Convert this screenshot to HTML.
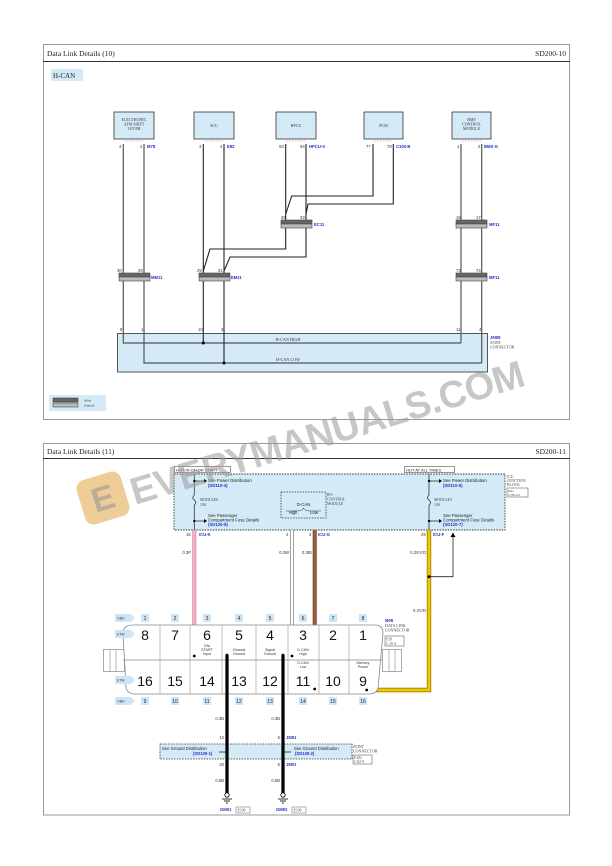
<!DOCTYPE html>
<html><head><meta charset="utf-8"><style>
html,body{margin:0;padding:0;background:#fff;}
svg{display:block;}
.s{font-family:"Liberation Serif",serif;}
.a{font-family:"Liberation Sans",sans-serif;}
</style></head><body>
<svg width="612" height="866" viewBox="0 0 612 866" xmlns="http://www.w3.org/2000/svg">
<!-- ===== TOP PANEL ===== -->
<rect x="43.5" y="44.5" width="526" height="375" fill="#fff" stroke="#999" stroke-width="1"/>
<line x1="43" y1="61.5" x2="570" y2="61.5" stroke="#333" stroke-width="1"/>
<text x="47" y="56" class="s" font-size="7.5" fill="#222">Data Link Details (10)</text>
<text x="566" y="56" class="s" font-size="7.5" fill="#222" text-anchor="end">SD200-10</text>
<rect x="51" y="69" width="32" height="12" fill="#d4eaf7"/>
<text x="53" y="78" class="s" font-size="7" fill="#223">H-CAN</text>

<g fill="#d4eaf7" stroke="#333" stroke-width="0.8">
<rect x="114" y="112" width="40" height="27"/>
<rect x="194" y="112" width="40" height="27"/>
<rect x="276" y="112" width="40" height="27"/>
<rect x="364" y="112" width="39" height="27"/>
<rect x="452" y="112" width="39" height="27"/>
</g>
<g class="s" font-size="4" fill="#333" text-anchor="middle">
<text x="134" y="121">ELECTRONIC</text><text x="134" y="125.5">ATM SHIFT</text><text x="134" y="130">LEVER</text>
<text x="214" y="127">SCU</text>
<text x="296" y="127">HPCU</text>
<text x="383.5" y="127">PCM</text>
<text x="471.5" y="121">BMS</text><text x="471.5" y="125.5">CONTROL</text><text x="471.5" y="130">MODULE</text>
</g>
<g stroke="#888" stroke-width="0.6" stroke-dasharray="1.5,1.5">
<line x1="124" y1="141" x2="143" y2="141"/><line x1="204" y1="141" x2="223" y2="141"/>
<line x1="286" y1="141" x2="305" y2="141"/><line x1="374" y1="141" x2="392" y2="141"/>
<line x1="462" y1="141" x2="481" y2="141"/>
</g>
<g class="a" font-size="4.2" fill="#333">
<text x="119" y="148">4</text><text x="140" y="148">2</text>
<text x="199" y="148">3</text><text x="220" y="148">4</text>
<text x="279" y="148">93</text><text x="300" y="148">94</text>
<text x="366" y="148">77</text><text x="387" y="148">78</text>
<text x="457" y="148">1</text><text x="478" y="148">2</text>
<text x="117" y="272">30</text><text x="138" y="272">29</text>
<text x="197" y="272">29</text><text x="218" y="272">31</text>
<text x="281" y="219">28</text><text x="300" y="219">33</text>
<text x="456" y="219">16</text><text x="476" y="219">17</text>
<text x="456" y="272">73</text><text x="476" y="272">74</text>
<text x="120" y="331">8</text><text x="141" y="331">1</text>
<text x="198" y="331">10</text><text x="221" y="331">3</text>
<text x="456" y="331">11</text><text x="479" y="331">4</text>
</g>
<g class="a" font-size="4.2" fill="#2230c8" font-weight="bold">
<text x="147" y="148">M78</text><text x="227" y="148">E82</text><text x="309" y="148">HPCU-S</text>
<text x="396" y="148">C100-B</text><text x="484" y="148">BMS-G</text>
<text x="314" y="226">EC11</text><text x="489" y="226">MF11</text>
<text x="151" y="279">MM11</text><text x="231" y="279">EM11</text><text x="489" y="279">MF11</text>
<text x="490" y="339">JM08</text>
</g>
<g class="s" font-size="4" fill="#444"><text x="490" y="344">JOINT</text><text x="490" y="348.5">CONNECTOR</text></g>

<!-- joint box -->
<rect x="117.5" y="333.5" width="370" height="38.5" fill="#d4eaf7" stroke="#444" stroke-width="0.9"/>
<!-- wires -->
<g fill="none" stroke="#555" stroke-width="1.2">
<polyline points="123.3,144 123.3,343 461,343"/>
<polyline points="144,144 144,363 481.7,363"/>
<line x1="461" y1="144" x2="461" y2="343"/>
<line x1="481.7" y1="144" x2="481.7" y2="363"/>
</g>
<g fill="none" stroke="#222" stroke-width="1.1">
<line x1="203.3" y1="144" x2="203.3" y2="343"/>
<line x1="224" y1="144" x2="224" y2="363"/>
<polyline points="285.7,144 285.7,249 210,249 203.3,271"/>
<polyline points="306,144 306,257 230,257 224,271"/>
<polyline points="373,144 373,196 291.7,196 285.7,214"/>
<polyline points="393.3,144 393.3,204 308,204 306,214"/>
</g>
<circle cx="203.3" cy="343" r="1.5" fill="#000"/>
<circle cx="224" cy="363" r="1.5" fill="#000"/>
<g class="s" font-size="4.2" fill="#333" text-anchor="middle">
<text x="288" y="341">H-CAN HIGH</text><text x="288" y="361">H-CAN LOW</text>
</g>
<!-- connectors -->
<g stroke="#444" stroke-width="0.6">
<rect x="119" y="273" width="31" height="4" fill="#666"/><rect x="119" y="277" width="31" height="4" fill="#bbb"/>
<rect x="199" y="273" width="31" height="4" fill="#666"/><rect x="199" y="277" width="31" height="4" fill="#bbb"/>
<rect x="456" y="273" width="31" height="4" fill="#666"/><rect x="456" y="277" width="31" height="4" fill="#bbb"/>
<rect x="281" y="220" width="31" height="4" fill="#666"/><rect x="281" y="224" width="31" height="4" fill="#bbb"/>
<rect x="456" y="220" width="31" height="4" fill="#666"/><rect x="456" y="224" width="31" height="4" fill="#bbb"/>
</g>
<!-- legend -->
<rect x="49" y="395" width="57" height="16" fill="#d4eaf7"/>
<rect x="53" y="398" width="25" height="4" fill="#666" stroke="#333" stroke-width="0.5"/>
<rect x="53" y="403" width="25" height="4" fill="#bbb" stroke="#333" stroke-width="0.5"/>
<g class="s" font-size="3.5" fill="#333"><text x="84" y="401.5">Male</text><text x="84" y="406.5">Female</text></g>

<!-- ===== BOTTOM PANEL ===== -->
<rect x="43.5" y="443.5" width="526" height="371.5" fill="#fff" stroke="#999" stroke-width="1"/>
<line x1="43" y1="458.5" x2="570" y2="458.5" stroke="#333" stroke-width="1"/>
<text x="47" y="454" class="s" font-size="7.5" fill="#222">Data Link Details (11)</text>
<text x="566" y="454" class="s" font-size="7.5" fill="#222" text-anchor="end">SD200-11</text>

<rect x="174" y="474" width="331" height="56" fill="#d4eaf7" stroke="#333" stroke-width="0.9" stroke-dasharray="1.5,1.2"/>
<rect x="174.5" y="466.5" width="56" height="6" fill="#fff" stroke="#333" stroke-width="0.5"/>
<rect x="404.5" y="466.5" width="50" height="6" fill="#fff" stroke="#333" stroke-width="0.5"/>
<g class="a" font-size="4" fill="#222"><text x="176" y="471.5">HOT IN ON OR START</text><text x="406" y="471.5">HOT AT ALL TIMES</text></g>
<g class="s" font-size="3.8" fill="#444">
<text x="507" y="478">ICU</text><text x="507" y="482">JUNCTION</text><text x="507" y="486">BLOCK</text>
<text x="327" y="496">IPS</text><text x="327" y="500.5">CONTROL</text><text x="327" y="505">MODULE</text>
<text x="200" y="501">MODULE8</text><text x="200" y="506">10A</text>
<text x="434" y="501">MODULE3</text><text x="434" y="506">10A</text>
</g>
<rect x="507" y="488" width="21" height="9" fill="#fff" stroke="#444" stroke-width="0.5"/>
<g class="s" font-size="3.5" fill="#444"><text x="508" y="492">P.61</text><text x="508" y="496">C.89-4.5</text></g>
<!-- fuse columns -->
<g stroke="#333" stroke-width="0.8" fill="none">
<line x1="194.3" y1="474" x2="194.3" y2="495"/><path d="M194.3,495 q-3,3 0,5 q3,3 0,5"/><line x1="194.3" y1="505" x2="194.3" y2="530"/>
<line x1="429" y1="474" x2="429" y2="495"/><path d="M429,495 q-3,3 0,5 q3,3 0,5"/><line x1="429" y1="505" x2="429" y2="530"/>
<line x1="194.3" y1="481" x2="204" y2="481"/><line x1="194.3" y1="521" x2="204" y2="521"/>
<line x1="429" y1="481" x2="439" y2="481"/><line x1="429" y1="521" x2="439" y2="521"/>
</g>
<g fill="#000">
<circle cx="194.3" cy="481" r="1.2"/><circle cx="194.3" cy="521" r="1.2"/><circle cx="429" cy="481" r="1.2"/><circle cx="429" cy="521" r="1.2"/>
<polygon points="204,479 207,481 204,483"/><polygon points="204,519 207,521 204,523"/>
<polygon points="439,479 442,481 439,483"/><polygon points="439,519 442,521 439,523"/>
</g>
<g class="a" font-size="4.3" fill="#222">
<text x="208" y="482">See Power Distribution</text>
<text x="208" y="517">See Passenger</text><text x="208" y="521.5">Compartment Fuse Details</text>
<text x="443" y="482">See Power Distribution</text>
<text x="443" y="517">See Passenger</text><text x="443" y="521.5">Compartment Fuse Details</text>
</g>
<g class="a" font-size="4.3" fill="#2230c8" font-weight="bold">
<text x="208" y="487">(SD110-4)</text><text x="208" y="526">(SD120-9)</text>
<text x="443" y="487">(SD110-5)</text><text x="443" y="526">(SD120-7)</text>
</g>
<!-- IPS box -->
<rect x="281" y="492" width="45" height="26" fill="none" stroke="#333" stroke-width="0.8" stroke-dasharray="1.5,1.2"/>
<g class="a" font-size="4.3" fill="#222" text-anchor="middle"><text x="303.5" y="506">D-CAN</text><text x="293" y="514">High</text><text x="314" y="514">Low</text></g>
<path d="M286,511 h10 q7,0 7.5,-3 q0.5,3 7.5,3 h10" fill="none" stroke="#333" stroke-width="0.5"/>

<!-- wires -->
<line x1="194.3" y1="530" x2="194.3" y2="656" stroke="#d88aa8" stroke-width="4"/>
<line x1="194.3" y1="530" x2="194.3" y2="656" stroke="#f4adc8" stroke-width="2.6"/>
<line x1="292" y1="530" x2="292" y2="656" stroke="#777" stroke-width="3.6"/>
<line x1="292" y1="530" x2="292" y2="656" stroke="#fff" stroke-width="2.2"/>
<line x1="314.7" y1="530" x2="314.7" y2="689" stroke="#6b3f22" stroke-width="4"/>
<line x1="314.7" y1="530" x2="314.7" y2="689" stroke="#9b5b38" stroke-width="2.6"/>
<polyline points="429,530 429,690 366.7,690" fill="none" stroke="#8a7000" stroke-width="4.4"/>
<polyline points="429,530 429,690 366.7,690" fill="none" stroke="#f0c800" stroke-width="3"/>
<polyline points="429,576.7 453,576.7 453,536" fill="none" stroke="#222" stroke-width="0.8"/>
<polygon points="450.5,537 453,532.5 455.5,537" fill="#000"/>
<circle cx="429" cy="576.7" r="1.4" fill="#000"/>
<g class="a" font-size="4.2" fill="#333">
<text x="186" y="536">15</text><text x="286" y="536">4</text><text x="309" y="536">3</text><text x="421" y="536">29</text>
<text x="191" y="554" text-anchor="end">0.3P</text><text x="289" y="554" text-anchor="end">0.3W</text>
<text x="312" y="554" text-anchor="end">0.3Br</text><text x="426" y="554" text-anchor="end">0.3SY/O</text>
<text x="426" y="612" text-anchor="end">0.3Y/O</text>
<text x="224" y="720" text-anchor="end">0.3B</text><text x="280" y="720" text-anchor="end">0.3B</text>
<text x="224" y="739" text-anchor="end">12</text><text x="280" y="739" text-anchor="end">6</text>
<text x="224" y="766" text-anchor="end">20</text><text x="280" y="766" text-anchor="end">5</text>
<text x="224" y="782" text-anchor="end">0.5B</text><text x="280" y="782" text-anchor="end">0.5B</text>
</g>
<g class="a" font-size="4.2" fill="#2230c8" font-weight="bold">
<text x="199" y="536">ICU-K</text><text x="318" y="536">ICU-G</text><text x="433" y="536">ICU-F</text>
<text x="385" y="622">M05</text>
<text x="286" y="739">JM01</text><text x="286" y="766">JM01</text>
<text x="220" y="811">GM01</text><text x="276" y="811">GM02</text>
</g>
<g class="s" font-size="4" fill="#444"><text x="385" y="627">DATA LINK</text><text x="385" y="631.5">CONNECTOR</text>
<text x="353" y="748">JOINT</text><text x="353" y="752.5">CONNECTOR</text></g>
<rect x="385" y="636" width="19" height="10" fill="#fff" stroke="#444" stroke-width="0.5"/>
<g class="s" font-size="3.6" fill="#444"><text x="386" y="640.5">P.58</text><text x="386" y="645">C.10-4</text></g>
<rect x="353" y="755" width="19" height="9" fill="#fff" stroke="#444" stroke-width="0.5"/>
<g class="s" font-size="3.6" fill="#444"><text x="354" y="759">P.182</text><text x="354" y="763">C.82-9</text></g>

<!-- DLC connector -->
<rect x="103.5" y="649.5" width="21" height="22" fill="#fff" stroke="#888" stroke-width="0.7"/>
<line x1="110" y1="649.5" x2="110" y2="671.5" stroke="#888" stroke-width="0.6"/><line x1="116" y1="649.5" x2="116" y2="671.5" stroke="#888" stroke-width="0.6"/>
<rect x="382.5" y="649.5" width="19" height="22" fill="#fff" stroke="#888" stroke-width="0.7"/>
<line x1="389" y1="649.5" x2="389" y2="671.5" stroke="#888" stroke-width="0.6"/><line x1="395" y1="649.5" x2="395" y2="671.5" stroke="#888" stroke-width="0.6"/>
<path d="M133,625 H375 Q383,625 383,633 L378,688 Q376,694 370,694 H135 Q128,694 126,688 L123,633 Q123,625 133,625 Z" fill="#fff" stroke="#888" stroke-width="0.8"/>
<line x1="123" y1="660" x2="382" y2="660" stroke="#888" stroke-width="0.7"/>
<g stroke="#999" stroke-width="0.6">
<line x1="160" y1="625" x2="160" y2="694"/><line x1="190" y1="625" x2="190" y2="694"/><line x1="222" y1="625" x2="222" y2="694"/>
<line x1="256" y1="625" x2="256" y2="694"/><line x1="288" y1="625" x2="288" y2="694"/><line x1="319" y1="625" x2="319" y2="694"/>
<line x1="349" y1="625" x2="349" y2="694"/>
</g>
<g class="a" font-size="14" fill="#111" text-anchor="middle">
<text x="145" y="640">8</text><text x="175" y="640">7</text><text x="207" y="640">6</text><text x="239" y="640">5</text>
<text x="270" y="640">4</text><text x="303" y="640">3</text><text x="333" y="640">2</text><text x="363" y="640">1</text>
<text x="145" y="686">16</text><text x="175" y="686">15</text><text x="207" y="686">14</text><text x="239" y="686">13</text>
<text x="270" y="686">12</text><text x="303" y="686">11</text><text x="333" y="686">10</text><text x="363" y="686">9</text>
</g>
<g class="a" font-size="3.6" fill="#333" text-anchor="middle">
<text x="207" y="647">ON/</text><text x="207" y="651">START</text><text x="207" y="655">Input</text>
<text x="239" y="651">Chassis</text><text x="239" y="655">Ground</text>
<text x="270" y="651">Signal</text><text x="270" y="655">Ground</text>
<text x="303" y="651">D-CAN</text><text x="303" y="655">High</text>
<text x="303" y="664">D-CAN</text><text x="303" y="668">Low</text>
<text x="363" y="664">Memory</text><text x="363" y="668">Power</text>
</g>
<!-- OBD/ETM labels -->
<g fill="#cce6f5">
<polygon points="115,614 131,614 135,618 131,622 115,622"/><polygon points="115,630 131,630 135,634 131,638 115,638"/>
<polygon points="115,676 131,676 135,680 131,684 115,684"/><polygon points="115,697 131,697 135,701 131,705 115,705"/>
<rect x="141" y="614" width="8" height="8"/><rect x="171" y="614" width="8" height="8"/><rect x="203" y="614" width="8" height="8"/><rect x="235" y="614" width="8" height="8"/>
<rect x="266" y="614" width="8" height="8"/><rect x="299" y="614" width="8" height="8"/><rect x="329" y="614" width="8" height="8"/><rect x="359" y="614" width="8" height="8"/>
<rect x="141" y="697" width="8" height="8"/><rect x="171" y="697" width="8" height="8"/><rect x="203" y="697" width="8" height="8"/><rect x="235" y="697" width="8" height="8"/>
<rect x="266" y="697" width="8" height="8"/><rect x="299" y="697" width="8" height="8"/><rect x="329" y="697" width="8" height="8"/><rect x="359" y="697" width="8" height="8"/>
</g>
<g class="a" font-size="3.5" fill="#335"><text x="117" y="619.5">OBD</text><text x="117" y="635.5">ETM</text><text x="117" y="681.5">ETM</text><text x="117" y="702.5">OBD</text></g>
<g class="a" font-size="5" fill="#224" text-anchor="middle">
<text x="145" y="620">1</text><text x="175" y="620">2</text><text x="207" y="620">3</text><text x="239" y="620">4</text>
<text x="270" y="620">5</text><text x="303" y="620">6</text><text x="333" y="620">7</text><text x="363" y="620">8</text>
<text x="145" y="703">9</text><text x="175" y="703">10</text><text x="207" y="703">11</text><text x="239" y="703">12</text>
<text x="270" y="703">13</text><text x="303" y="703">14</text><text x="333" y="703">15</text><text x="363" y="703">16</text>
</g>
<g fill="#000"><circle cx="194.3" cy="656" r="1.4"/><circle cx="292" cy="656" r="1.4"/><circle cx="314.7" cy="689" r="1.4"/><circle cx="366.7" cy="690" r="1.4"/>
<circle cx="227" cy="655" r="1.4"/><circle cx="283" cy="655" r="1.4"/></g>

<!-- ground joint -->
<rect x="160" y="744" width="192" height="15" fill="#d4eaf7" stroke="#333" stroke-width="0.8" stroke-dasharray="1.5,1.2"/>
<line x1="227" y1="655" x2="227" y2="795" stroke="#000" stroke-width="3.2"/>
<line x1="283" y1="655" x2="283" y2="795" stroke="#000" stroke-width="3.2"/>
<g class="a" font-size="4.2" fill="#222"><text x="162" y="750">See Ground Distribution</text><text x="294" y="750">See Ground Distribution</text></g>
<g class="a" font-size="4.2" fill="#2230c8" font-weight="bold"><text x="193" y="755">(SD130-1)</text><text x="295" y="755">(SD130-2)</text></g>
<g stroke="#000" stroke-width="0.7"><line x1="219" y1="752" x2="227" y2="752"/><line x1="283" y1="752" x2="291" y2="752"/></g>
<g stroke="#000" stroke-width="0.8" fill="#fff">
<circle cx="227" cy="795" r="2.2"/><circle cx="283" cy="795" r="2.2"/>
<line x1="222" y1="799" x2="232" y2="799"/><line x1="224" y1="801" x2="230" y2="801"/><line x1="226" y1="803" x2="228" y2="803"/>
<line x1="278" y1="799" x2="288" y2="799"/><line x1="280" y1="801" x2="286" y2="801"/><line x1="282" y1="803" x2="284" y2="803"/>
</g>
<rect x="236" y="807" width="14" height="6" fill="#fff" stroke="#666" stroke-width="0.5"/>
<rect x="292" y="807" width="14" height="6" fill="#fff" stroke="#666" stroke-width="0.5"/>
<g class="s" font-size="3.6" fill="#444"><text x="237.5" y="811.5">P.100</text><text x="293.5" y="811.5">P.100</text></g>

<!-- watermark -->
<rect x="80" y="475" width="46" height="46" rx="9" fill="#e8b86a" opacity="0.7" transform="rotate(-17 103 498)"/>
<text x="103" y="510" class="a" font-size="34" font-weight="bold" fill="#999" opacity="0.6" text-anchor="middle" transform="rotate(-17 103 498)">E</text>
<text x="135" y="505" class="a" font-size="38" font-weight="bold" fill="#9a9a9a" opacity="0.55" transform="rotate(-17 135 505)" textLength="410">EVERYMANUALS.COM</text>
</svg>
</body></html>
